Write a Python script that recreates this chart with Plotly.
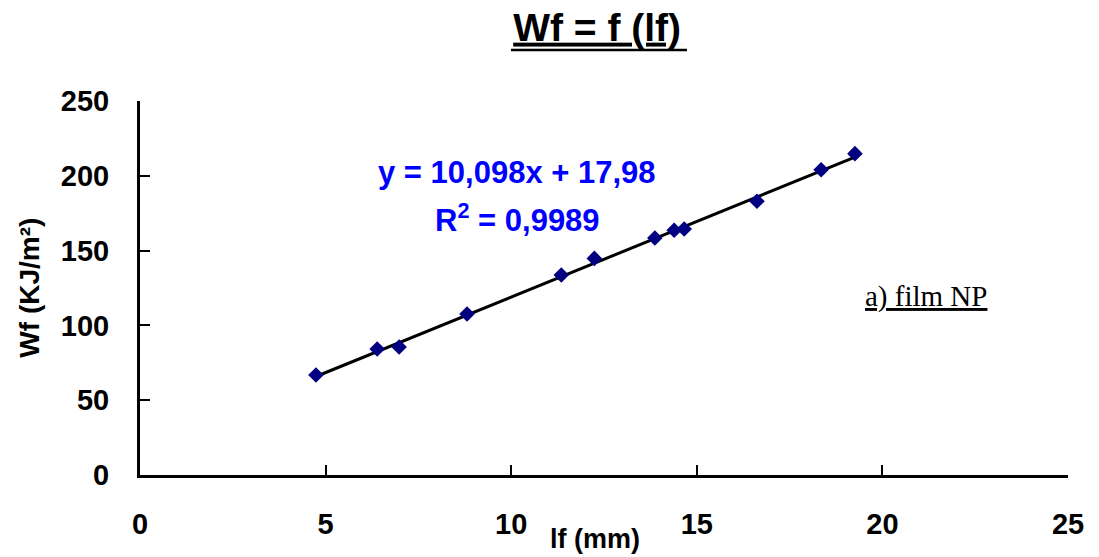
import plotly.graph_objects as go

# Data
lf_mm = [4.74, 6.39, 6.98, 8.81, 11.35, 12.24, 13.87, 14.39, 14.66, 16.62, 18.35, 19.26]
wf = [66.8, 84.2, 85.6, 107.6, 133.7, 144.8, 158.4, 163.6, 164.4, 183.0, 204.0, 214.8]

# Trendline coefficients (as printed on the chart)
slope = 10.098
intercept = 17.98
fit_x = [min(lf_mm), max(lf_mm)]
fit_y = [slope * x + intercept for x in fit_x]

x_ticks = [0, 5, 10, 15, 20, 25]
y_ticks = [0, 50, 100, 150, 200, 250]

SANS = "Arial, Liberation Sans, sans-serif"
SERIF = "Times New Roman, Liberation Serif, serif"

W, H = 1091, 549  # page body has an 8px margin

fig = go.Figure()
fig.add_trace(go.Scatter(
    x=fit_x, y=fit_y, mode="lines",
    line=dict(color="black", width=3), showlegend=False, hoverinfo="skip"))
fig.add_trace(go.Scatter(
    x=lf_mm, y=wf, mode="markers",
    marker=dict(symbol="diamond", size=12, color="#000080"),
    showlegend=False))

fig.update_layout(
    width=W, height=H,
    paper_bgcolor="white", plot_bgcolor="white",
    margin=dict(l=132, r=31, t=93, b=82),
    title=dict(text="<u>Wf = f (lf)</u>", x=0.54, xanchor="center",
               y=1 - 19 / H, yanchor="middle",
               font=dict(family=SANS, size=39, color="black", weight="bold")),
    xaxis=dict(range=[0, 25], tickvals=x_ticks, showgrid=False, zeroline=False,
               showline=True, linecolor="black", linewidth=3,
               ticks="inside", ticklen=10, tickwidth=2, tickcolor="black",
               ticklabelstandoff=21,
               tickfont=dict(family=SANS, size=29, color="black", weight="bold")),
    yaxis=dict(range=[0, 250], tickvals=y_ticks, showgrid=False, zeroline=False,
               showline=True, linecolor="black", linewidth=3,
               ticks="inside", ticklen=10, tickwidth=2, tickcolor="black",
               ticklabelstandoff=22,
               tickfont=dict(family=SANS, size=29, color="black", weight="bold")),
    shapes=[
        dict(type="line", xref="paper", yref="paper",
             x0=(503 - 132) / (W - 163), x1=(679 - 132) / (W - 163),
             y0=1 + (93 - 42) / (H - 175), y1=1 + (93 - 42) / (H - 175),
             line=dict(color="black", width=2.5)),
    ],
    annotations=[
        dict(text="lf (mm)", xref="paper", yref="paper", x=0.49, y=-0.17,
             xanchor="center", yanchor="middle", showarrow=False,
             font=dict(family=SANS, size=27, color="black", weight="bold")),
        dict(text="Wf (KJ/m²)", xref="paper", yref="paper", x=-0.12, y=0.5,
             xanchor="center", yanchor="middle", showarrow=False, textangle=-90,
             font=dict(family=SANS, size=28, color="black", weight="bold")),
        dict(text="y = 10,098x + 17,98", x=10.16, y=202.5, xref="x", yref="y",
             showarrow=False, xanchor="center", yanchor="middle",
             font=dict(family=SANS, size=31, color="#0000FF", weight="bold")),
        dict(text="R<sup>2</sup> = 0,9989", x=10.16, y=171.5, xref="x", yref="y",
             showarrow=False, xanchor="center", yanchor="middle",
             font=dict(family=SANS, size=31, color="#0000FF", weight="bold")),
        dict(text="<u>a) film NP</u>", x=21.17, y=119, xref="x", yref="y",
             showarrow=False, xanchor="center", yanchor="middle",
             font=dict(family=SERIF, size=29, color="black")),
    ],
)

fig.write_html("out.html")
